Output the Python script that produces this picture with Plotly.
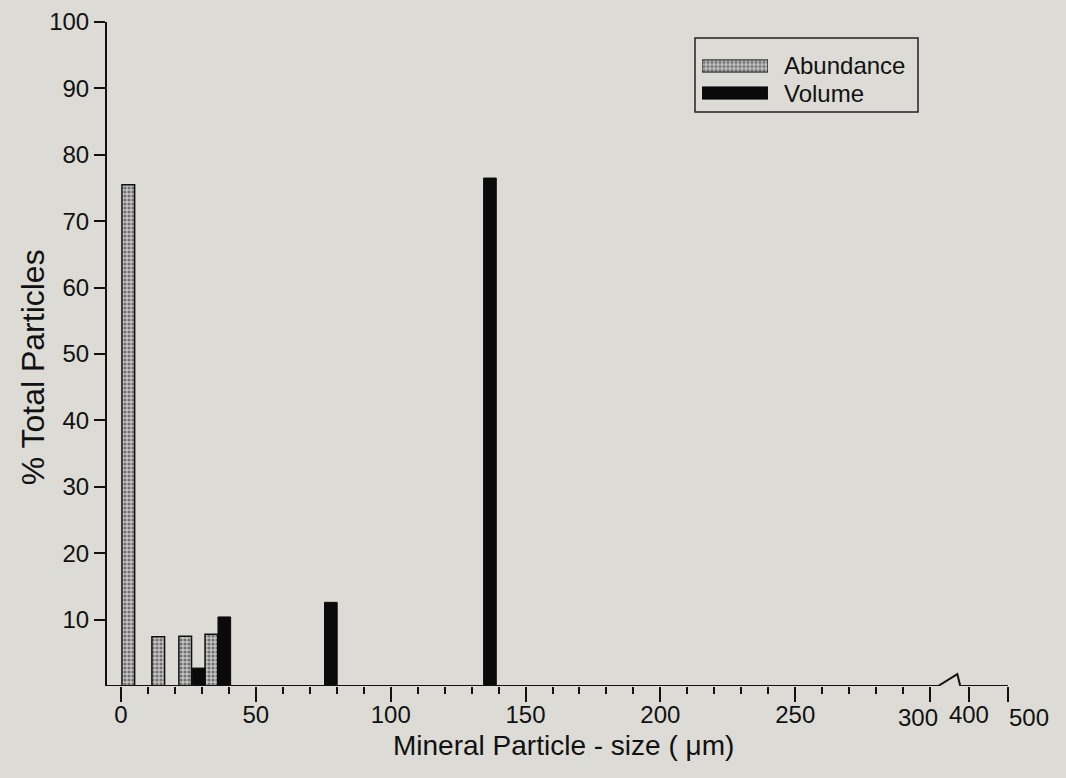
import plotly.graph_objects as go

# ---- data ----
abund_x = [2.7, 13.8, 23.8, 33.5]
abund_y = [75.5, 7.4, 7.5, 7.8]
vol_x = [28.8, 38.3, 77.8, 136.8]
vol_y = [2.7, 10.4, 12.6, 76.5]
bar_w = 4.7

major_ticks = [0, 50, 100, 150, 200, 250, 300, 314.4, 328.9]
major_text = ["0", "50", "100", "150", "200", "250", "", "400", ""]
minor_ticks = [v for v in range(10, 300, 10) if v % 50 != 0]
y_ticks = [10, 20, 30, 40, 50, 60, 70, 80, 90, 100]

legend_names = ["Abundance", "Volume"]

BG = "#dcdbd5"
FONT = "Liberation Sans, Arial, Helvetica, sans-serif"
XMIN, XMAX = -5.2, 328.9

abund_pattern = dict(shape=".", fgcolor="#1e1e1e", bgcolor="#c4c4c4", size=4, solidity=0.5)

fig = go.Figure()
fig.add_trace(go.Bar(
    x=abund_x, y=abund_y, width=bar_w, name=legend_names[0],
    marker=dict(color="#c4c4c4", pattern=abund_pattern,
                line=dict(color="#111", width=1.5)),
    showlegend=False,
))
fig.add_trace(go.Bar(
    x=vol_x, y=vol_y, width=bar_w, name=legend_names[1],
    marker=dict(color="#0a0a0a", line=dict(color="#0a0a0a", width=1)),
    showlegend=False,
))

# legend swatches drawn as bars on a small overlay axis
fig.add_trace(go.Bar(
    x=[1], y=[1], base=0, orientation="h", width=0.45,
    marker=dict(color="#c4c4c4", pattern=abund_pattern, line=dict(color="#111", width=1)),
    xaxis="x2", yaxis="y2", showlegend=False, hoverinfo="skip",
))
fig.add_trace(go.Bar(
    x=[1], y=[0], base=0, orientation="h", width=0.45,
    marker=dict(color="#0a0a0a", line=dict(color="#0a0a0a", width=1)),
    xaxis="x2", yaxis="y2", showlegend=False, hoverinfo="skip",
))

fig.update_layout(
    width=1066, height=778, autosize=False,
    margin=dict(l=107, r=58, t=22, b=92, autoexpand=False),
    paper_bgcolor=BG, plot_bgcolor=BG,
    barmode="overlay",
    font=dict(family=FONT, size=24, color="#111"),
    xaxis=dict(
        range=[XMIN, XMAX], showline=False, showgrid=False, zeroline=False,
        automargin=False,
        tickmode="array", tickvals=major_ticks, ticktext=major_text,
        ticks="outside", ticklen=15, tickwidth=2, tickcolor="#111",
        ticklabelstandoff=-8,
        tickfont=dict(size=24, color="#111"),
        minor=dict(tickmode="array", tickvals=minor_ticks, ticks="outside",
                   ticklen=7, tickwidth=2, tickcolor="#111"),
    ),
    yaxis=dict(
        range=[0, 100], showline=True, linecolor="#111", linewidth=2,
        showgrid=False, zeroline=False, automargin=False,
        tickmode="array", tickvals=y_ticks,
        ticks="outside", ticklen=11, tickwidth=2, tickcolor="#111",
        tickfont=dict(size=24, color="#111"),
    ),
    xaxis2=dict(domain=[0.6604, 0.7336], range=[0, 1], anchor="y2", visible=False,
                fixedrange=True, automargin=False),
    yaxis2=dict(domain=[0.8727, 0.9541], range=[-0.5, 1.5], anchor="x2", visible=False,
                fixedrange=True, automargin=False),
)

# broken x-axis baseline
fig.add_shape(type="path", xref="x", yref="y",
              path=f"M {XMIN},0 L 303,0 L 310.1,1.8 L 311.2,0 L {XMAX},0",
              line=dict(color="#111", width=2), layer="above")

# shifted tick labels for 300 and 500
fig.add_annotation(x=295.6, xref="x", y=-0.047, yref="paper", text="300",
                   showarrow=False, xanchor="center", yanchor="middle",
                   font=dict(size=24, color="#111"))
fig.add_annotation(x=1.023, xref="paper", y=-0.047, yref="paper", text="500",
                   showarrow=False, xanchor="center", yanchor="middle",
                   font=dict(size=24, color="#111"))

# axis titles
fig.add_annotation(x=0.507, xref="paper", y=-0.0889, yref="paper",
                   text="Mineral Particle - size ( μm)", showarrow=False,
                   xanchor="center", yanchor="middle", font=dict(size=28, color="#111"))
fig.add_annotation(x=-0.0821, xref="paper", y=0.48, yref="paper",
                   text="% Total Particles", textangle=-90, showarrow=False,
                   xanchor="center", yanchor="middle", font=dict(size=32, color="#111"))

# legend texts and frame
for i, name in enumerate(legend_names):
    fig.add_annotation(x=0.749, xref="paper", y=1 - i, yref="y2", text=name,
                       showarrow=False, xanchor="left", yanchor="middle",
                       font=dict(size=24, color="#111"))
fig.add_shape(type="rect", xref="paper", yref="paper",
              x0=0.6526, x1=0.9001, y0=0.8645, y1=0.9759,
              line=dict(color="#222", width=1.5))

fig.write_html(
    "out.html",
    config={"displayModeBar": False},
    post_script=(
        "document.body.style.margin='0';"
        "document.body.style.overflow='hidden';"
        "document.body.style.background='" + BG + "';"
    ),
)
